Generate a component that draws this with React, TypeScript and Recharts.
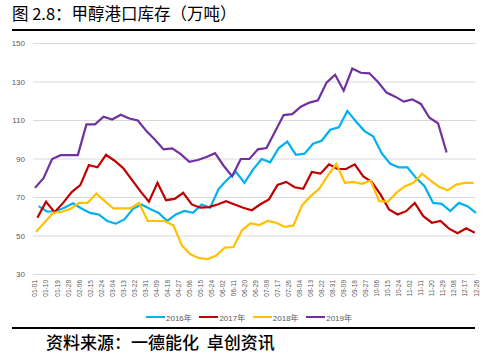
import { LineChart, Line, XAxis, YAxis, CartesianGrid } from 'recharts';

// tick labels on the date axis (every 9 days)
const tickLabels = [
  '01-01', '01-10', '01-19', '01-28', '02-06', '02-15', '02-24', '03-04', '03-13', '03-22',
  '03-31', '04-09', '04-18', '04-27', '05-06', '05-15', '05-24', '06-02', '06-11', '06-20',
  '06-29', '07-08', '07-17', '07-26', '08-04', '08-13', '08-22', '08-31', '09-09', '09-18',
  '09-27', '10-06', '10-15', '10-24', '11-02', '11-11', '11-20', '11-29', '12-08', '12-17',
  '12-26',
];
const tickDays = tickLabels.map((_, i) => i * 9);
const yTicks = [30, 50, 70, 90, 110, 130, 150];

// weekly port inventory, 10k tons
const s2016 = [
  65.5, 62.6, 63, 64.7, 67, 64.3, 62, 61.2, 57.8, 56.4, 58.6, 64.1, 66.4, 64, 62, 57.8, 61.2,
  63, 62, 66.4, 64.7, 74.5, 79.3, 83.3, 77.6, 84.5, 90, 88.3, 95.7, 99, 92.2, 92.8, 97.9, 99.5,
  105.2, 106.4, 115, 109.5, 104.5, 101.8, 93, 87.5, 85.7, 85.7, 80.2, 75.9, 67.2, 66.7, 63,
  67.2, 65.5, 62,
];
const s2017 = [
  59.5, 67.8, 62.4, 67.2, 72.8, 76.4, 86.9, 85.7, 92.2, 89.1, 85.3, 79.3, 73.3, 67.8, 77.6,
  68.6, 69.3, 72.4, 66.4, 64.7, 65, 66.4, 68.1, 66.4, 64.7, 63.4, 66.5, 69, 76.5, 78.1, 75.3,
  74.5, 83.3, 82.4, 87.2, 84.8, 84.8, 87.2, 81, 78, 71.6, 63.8, 61.2, 62.9, 67.2, 60.3, 56.9,
  57.8, 53.8, 51.4, 54, 51.7,
];
const s2018 = [
  52.2, 57.2, 62.1, 62.6, 64.1, 67.2, 67.2, 72.1, 68.1, 64.3, 64.3, 64.3, 67.2, 57.8, 57.8,
  57.8, 55.5, 45, 40.5, 38.5, 38, 39.8, 44, 44.3, 53, 56.6, 55.7, 57.8, 56.9, 54.7, 55.5, 65.9,
  70.7, 74.5, 81.4, 87.4, 77.6, 78.1, 77.1, 78.8, 68.1, 67.8, 72.4, 75.9, 77.6, 82.4, 78.8,
  75.5, 73.8, 76.7, 77.6, 77.6,
];
const s2019 = [
  75, 80, 90, 92, 92, 92, 108, 108, 112, 110.5, 113, 111, 110, 104.5, 100, 95, 95.5, 92.5,
  88.5, 89.5, 91, 93, 86.5, 81, 90, 90, 95, 95.7, 104.3, 112.8, 113.3, 117.2, 119.3, 120.5,
  129.7, 133.8, 125.5, 137, 134.8, 134.5, 130, 124.5, 122.4, 119.8, 121, 118.6, 111.4, 108.6,
  93.4,
];

const series = [
  { name: '2016年', values: s2016, firstDay: 3, color: '#00B0F0' },
  { name: '2017年', values: s2017, firstDay: 2, color: '#C00000' },
  { name: '2018年', values: s2018, firstDay: 1, color: '#FFC000' },
  { name: '2019年', values: s2019, firstDay: 0, color: '#7030A0' },
];

const toPoints = (values: number[], firstDay: number) =>
  values.map((v, i) => ({ day: firstDay + i * 7, v }));

const axisFont = "'Liberation Sans', Arial, sans-serif";
const narrowFont = "'Liberation Sans Narrow', 'Liberation Sans', Arial, sans-serif";
const cjkFont = "'Noto Sans CJK SC', 'Noto Sans', sans-serif";
const legendFont = `'Liberation Sans Narrow', 'Liberation Sans', ${cjkFont}`;

const DateTick = ({ x, y, payload }: any) => {
  const label = tickLabels[tickDays.indexOf(payload.value)];
  const ty = y + 5.5;
  return (
    <text
      x={x}
      y={ty}
      transform={`rotate(-90 ${x} ${ty})`}
      textAnchor="end"
      dominantBaseline="central"
      fontSize={6.5}
      fontFamily={narrowFont}
      fill="#595959"
    >
      {label}
    </text>
  );
};

export default function App() {
  return (
    <div style={{ position: 'absolute', left: 0, top: 0, width: 484, height: 358, background: '#fff', overflow: 'hidden' }}>
      <div style={{ position: 'absolute', left: 12, top: 4, fontSize: 16.5, lineHeight: '18px', fontFamily: cjkFont, color: '#000', whiteSpace: 'nowrap' }}>
        图 2.8：甲醇港口库存（万吨）
      </div>
      <div style={{ position: 'absolute', left: 12, top: 29, width: 463, height: 2, background: '#000' }} />

      <div style={{ position: 'absolute', left: 0, top: 0 }}>
        <LineChart width={484} height={305} margin={{ top: 43.5, right: 8, left: 0, bottom: 0 }}>
          <CartesianGrid vertical={false} stroke="#d9d9d9" strokeWidth={1} />
          <XAxis
            type="number"
            dataKey="day"
            domain={[-1.6, 360]}
            ticks={tickDays}
            interval={0}
            tick={<DateTick />}
            tickLine={false}
            axisLine={false}
            tickSize={0}
            tickMargin={0}
            height={30.5}
            allowDuplicatedCategory={false}
          />
          <YAxis
            type="number"
            domain={[30, 150]}
            ticks={yTicks}
            interval={0}
            width={33}
            axisLine={false}
            tickLine={false}
            tick={{ fontSize: 8, fill: '#595959', fontFamily: axisFont }}
          />
          {series.map((s) => (
            <Line
              key={s.name}
              data={toPoints(s.values, s.firstDay)}
              dataKey="v"
              name={s.name}
              type="linear"
              stroke={s.color}
              strokeWidth={2.2}
              dot={false}
              isAnimationActive={false}
            />
          ))}
        </LineChart>
      </div>

      {series.map((s, i) => (
        <div
          key={s.name}
          style={{ position: 'absolute', left: 146 + i * 53.4, top: 311, height: 12, display: 'flex', alignItems: 'center' }}
        >
          <div style={{ width: 19, height: 2, background: s.color }} />
          <span style={{ marginLeft: 1, fontSize: 8, fontFamily: legendFont, color: '#595959' }}>
            {s.name}
          </span>
        </div>
      ))}

      <div style={{ position: 'absolute', left: 12, top: 326.5, width: 463, height: 2, background: '#000' }} />
      <div style={{ position: 'absolute', left: 46, top: 332, fontSize: 17, lineHeight: '20px', fontFamily: cjkFont, fontWeight: 500, color: '#000', whiteSpace: 'pre' }}>
        {'资料来源：一德能化  卓创资讯'}
      </div>
    </div>
  );
}
